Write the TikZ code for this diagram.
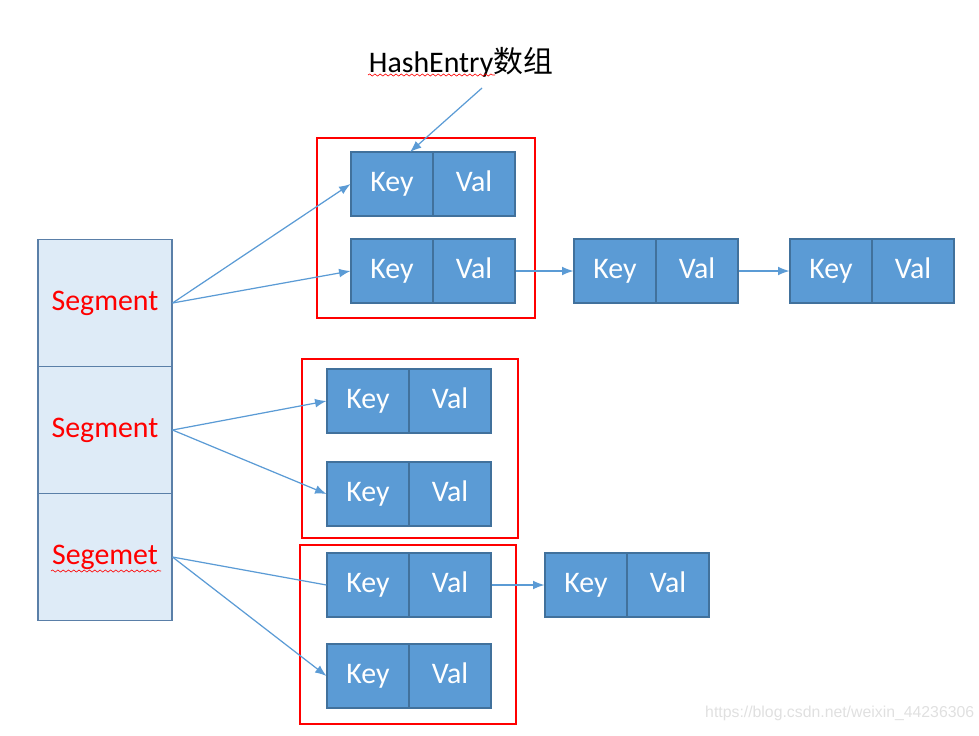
\documentclass[tikz,border=0pt]{standalone}
\usepackage{fontspec}
\setmainfont{Carlito}
\newfontfamily\cjk{Noto Sans CJK SC}
\newfontfamily\wmfont{Liberation Sans}
\usepackage{tikz}
\usetikzlibrary{arrows.meta,decorations.pathmorphing}

\definecolor{cellblue}{HTML}{5B9BD5}
\definecolor{cellline}{HTML}{41719C}
\definecolor{segfill}{HTML}{DEEBF7}
\definecolor{segline}{HTML}{5A7FA8}
\definecolor{linkblue}{HTML}{5B9BD5}

\begin{document}
\begin{tikzpicture}[x=0.02cm,y=-0.02cm,
    >={Latex[length=6.5pt,width=5pt]},
    cell/.style={draw=cellline, line width=0.6pt, fill=cellblue, text=white,
        minimum width=1.64cm, minimum height=1.28cm, inner sep=0pt,
        text height=1.0em, text depth=0.14em,
        font=\fontsize{17}{20}\selectfont},
    seg/.style={draw=segline, line width=0.6pt, fill=segfill, text=red,
        minimum width=2.68cm, minimum height=2.54cm, inner sep=0pt,
        text height=1.0em, text depth=0.14em,
        font=\fontsize{17}{20}\selectfont},
    link/.style={draw=linkblue, line width=0.7pt},
    group/.style={draw=red, line width=0.9pt},
    squiggle/.style={draw=red, line width=0.35pt, decorate,
        decoration={snake, amplitude=0.6pt, segment length=3pt}}]
            \useasboundingbox (0,0) rectangle (979,735);

            % Segment array
            \node[seg] (s1) at (105,303) {Segment};
            \node[seg] (s2) at (105,430) {Segment};
            \node[seg] (s3) at (105,557) {Segemet};
            \draw[squiggle] (51,571) -- (161,571);

            % First bucket
            \node[cell] (k1) at (392,184) {Key};
            \node[cell] (v1) at (474,184) {Val};
            \node[cell] (k2) at (392,271) {Key};
            \node[cell] (v2) at (474,271) {Val};
            \draw[group] (317,138) rectangle (535,318);

            % Chain behind the second entry
            \node[cell] (k3) at (615,271) {Key};
            \node[cell] (v3) at (697,271) {Val};
            \node[cell] (k4) at (831,271) {Key};
            \node[cell] (v4) at (913,271) {Val};

            % Second bucket
            \node[cell] (k5) at (368,401) {Key};
            \node[cell] (v5) at (450,401) {Val};
            \node[cell] (k6) at (368,494) {Key};
            \node[cell] (v6) at (450,494) {Val};
            \draw[group] (302,359) rectangle (518,538);

            % Third bucket
            \node[cell] (k7) at (368,585) {Key};
            \node[cell] (v7) at (450,585) {Val};
            \node[cell] (k8) at (586,585) {Key};
            \node[cell] (v8) at (668,585) {Val};
            \node[cell] (k9) at (368,676) {Key};
            \node[cell] (v9) at (450,676) {Val};
            \draw[group] (300,545) rectangle (516,724);

            % Title and its pointer
            \node[anchor=base, font=\fontsize{17}{20}\selectfont] (title) at (461,72) {HashEntry{\cjk 数组}};
            \draw[squiggle] (368,75) -- (495,75);
            \coordinate (hint) at (482,88);
            \coordinate (tip) at (410,152);
            \draw[link,->] (hint) -- (tip);

            % Links from the segments
            \draw[link,->] (s1.east) -- (k1.west);
            \draw[link,->] (s1.east) -- (k2.west);
            \draw[link,->] (s2.east) -- (k5.west);
            \draw[link,->] (s2.east) -- (k6.west);
            \draw[link] (s3.east) -- (k7.west);
            \draw[link,->] (s3.east) -- (k9.west);

            % Links along the chains
            \draw[link,->] (v2.east) -- (k3.west);
            \draw[link,->] (v3.east) -- (k4.west);
            \draw[link,->] (v7.east) -- (k8.west);

            % Watermark
            \node[anchor=base west, text=black!12, font=\wmfont\fontsize{9}{10}\selectfont] (mark) at (699,717) {https://blog.csdn.net/weixin\_44236306};
        \end{tikzpicture}
\end{document}
